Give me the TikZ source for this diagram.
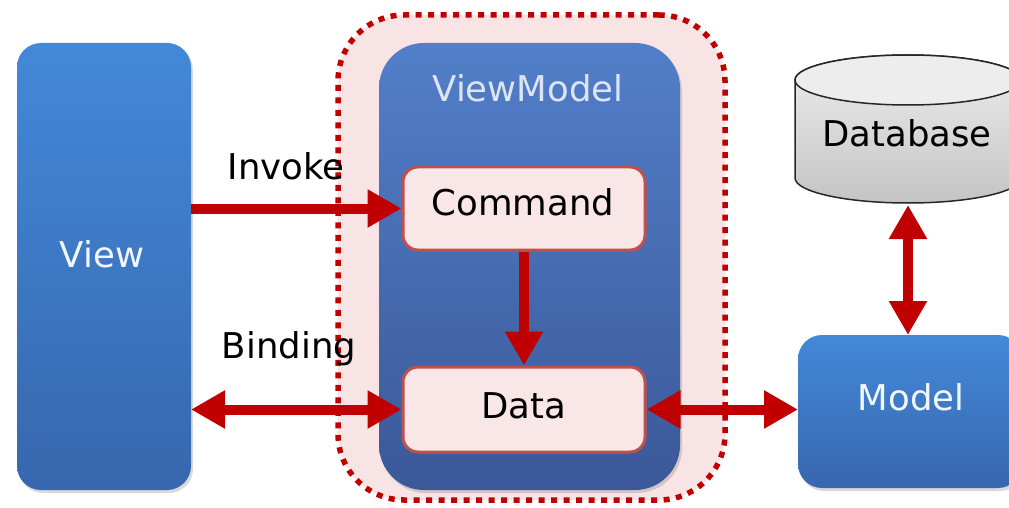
\documentclass[tikz,border=0pt]{standalone}
\usepackage{fontspec}
\setmainfont{DejaVu Sans}
\usetikzlibrary{arrows.meta,shadows}
\definecolor{arrowred}{HTML}{C00000}
\definecolor{regionfill}{HTML}{F8E4E4}
\definecolor{viewtop}{HTML}{4389D9}
\definecolor{viewbot}{HTML}{3767AE}
\definecolor{vmtop}{HTML}{527FC9}
\definecolor{vmbot}{HTML}{3B5898}
\definecolor{cmdfill}{HTML}{F9E6E6}
\definecolor{cmdborder}{HTML}{C0504D}
\definecolor{dbtop}{HTML}{EDEDED}
\definecolor{dbbot}{HTML}{C4C4C4}
\definecolor{lighttext}{HTML}{F2F6FF}
\definecolor{vmtext}{HTML}{DCE4F6}
\begin{document}
\begin{tikzpicture}[x=1pt,y=1pt,
  lbl/.style={font=\fontsize{35.5}{42}\selectfont, anchor=base, inner sep=0pt},
  bluebox/.style={rounded corners=24pt, top color=viewtop, bottom color=viewbot, draw=none, inner sep=0pt, outer sep=0pt,
    drop shadow={opacity=0.3, shadow xshift=2pt, shadow yshift=-3pt}},
  inbox/.style={rounded corners=15pt, fill=cmdfill, draw=cmdborder, line width=3pt, inner sep=0pt},
  link/.style={draw=arrowred, line width=10pt, -{Triangle[length=34pt,width=36pt]}},
  dlink/.style={draw=arrowred, line width=10pt, {Triangle[length=34pt,width=36pt]}-{Triangle[length=34pt,width=36pt]}},
]
\useasboundingbox (0,0) rectangle (1009,507);
\clip (0,0) rectangle (1009,507);

% ViewModel region (dotted)
\node[draw=arrowred, fill=regionfill, line width=5.5pt, dash pattern=on 6pt off 6.5pt,
      rounded corners=66pt, minimum width=387pt, minimum height=485pt, inner sep=0pt] (region) at (531.5,249.5) {};

% View
\node[bluebox, minimum width=174pt, minimum height=447pt] (view) at (104,240.5) {};
\node[lbl, text=lighttext] (viewtxt) at (102,240) {View};

% ViewModel
\node[bluebox, rounded corners=45pt, top color=vmtop, bottom color=vmbot,
      minimum width=301pt, minimum height=447pt] (vm) at (529.5,240.5) {};
\node[lbl, text=vmtext] (vmtxt) at (528,405) {ViewModel};

% Command and Data
\node[inbox, minimum width=242pt, minimum height=83pt] (cmd) at (524,298.5) {};
\node[lbl] (cmdtxt) at (523,292) {Command};
\node[inbox, minimum width=242pt, minimum height=85pt] (data) at (524,97.5) {};
\node[lbl] (datatxt) at (524,89) {Data};

% Model
\node[bluebox, minimum width=224pt, minimum height=153pt] (model) at (910,95.5) {};
\node[lbl, text=lighttext] (modeltxt) at (911,97) {Model};

% Database cylinder
\path[draw=black!85, line width=1.5pt, top color=dbtop, bottom color=dbbot]
  (795,427) -- (795,329) arc[start angle=180, end angle=360, x radius=113, y radius=25]
  -- (1021,427) arc[start angle=0, end angle=180, x radius=113, y radius=25] -- cycle;
\draw[black!85, line width=1.5pt, fill=dbtop] (908,427) ellipse[x radius=113, y radius=25];
\node[lbl] (db) at (907,360) {Database};
\coordinate (dbb) at (908,302);

% Labels
\node[lbl] (invoke) at (286,327) {Invoke};
\node[lbl] (binding) at (289,149) {Binding};

% Connectors
\draw[link] (view.east |- cmd.center) -- (cmd.west);
\draw[dlink] (view.east |- data.center) -- (data.west);
\draw[link] (cmd.south) -- (data.north);
\draw[dlink] (data.east) -- (model.west |- data.east);
\draw[dlink] (dbb) -- (model.north -| dbb);
\end{tikzpicture}
\end{document}
